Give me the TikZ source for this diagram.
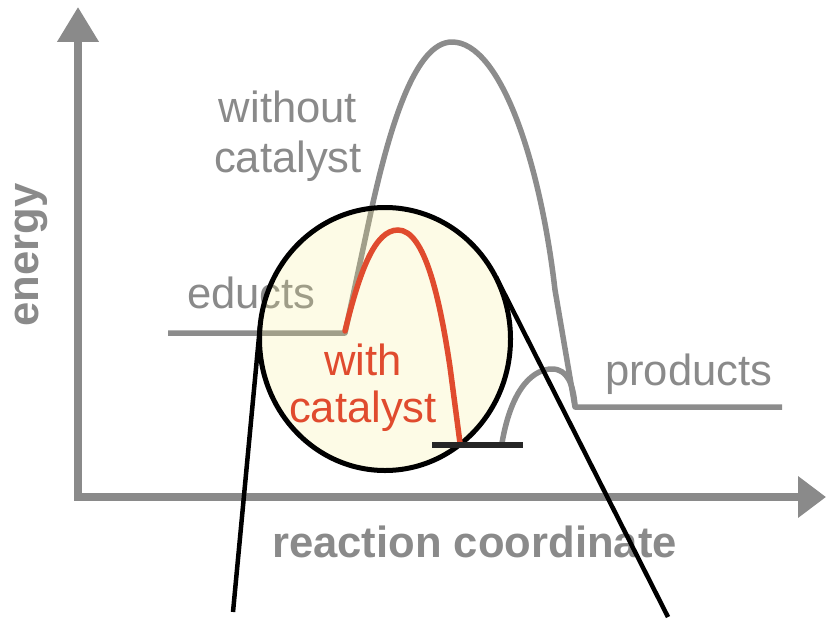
\documentclass[tikz,border=0pt]{standalone}
\usepackage{fontspec}
\setmainfont{Liberation Sans}
\usetikzlibrary{arrows.meta,shapes.geometric}
\definecolor{Axis}{HTML}{8A8A8A}
\definecolor{Curve}{HTML}{8C8C8C}
\definecolor{Label}{HTML}{8A8A8A}
\definecolor{Red}{HTML}{E04B2E}
\definecolor{LensFill}{HTML}{F5EB82}
\tikzset{axis/.style={line width=7.5pt,draw=Axis},curve/.style={line width=5.5pt,draw=Curve,line join=round},cat/.style={line width=5.5pt,draw=Red,line cap=round},lbl/.style={text=Label,inner sep=0pt,font=\fontsize{43.6}{50}\selectfont},axlbl/.style={lbl,font=\fontsize{43.6}{50}\selectfont\bfseries},lens/.style={ellipse,draw=black,line width=5pt,fill=LensFill,fill opacity=.2,minimum width=251pt,minimum height=263pt,inner sep=0pt},zoomline/.style={line width=4.5pt,draw=black}}

\begin{document}
\begin{tikzpicture}[x=1pt,y=-1pt]
      \useasboundingbox (0,0) rectangle (826,618);
      % axes
      \coordinate (origin) at (78,497);\coordinate (ytip) at (78,7);\coordinate (xtip) at (826,497);
      \draw[axis,{Triangle[length=35pt,width=40pt]}-{Triangle[length=28pt,width=40pt]}](ytip)|-(xtip);
      \node[axlbl,rotate=90,anchor=base](energy) at (38,255){energy};
      \node[axlbl,anchor=base west](coord) at (272,557){reaction coordinate};
      % energy profile without catalyst
      \draw[curve](168,333)--(345,333)--(372,207) .. controls (390,127) and (415,42) .. (452,42) .. controls (500,42) and (540,160) .. (555,290)--(575,407)--(782,407);
      \draw[curve](502,443) .. controls (512,385) and (535,369) .. (552,369) .. controls (568,369) and (573,385) .. (575,405);
      \node[lbl,align=center,anchor=base](without) at (288,172){without\\catalyst};
      \node[lbl,anchor=base west](educts) at (187,308){educts};
      \node[lbl,anchor=base west](products) at (605,385){products};
      % magnified part
      \node[lens](lens) at (385,339){};
      \draw[cat](345,331) .. controls (360,270) and (375,230) .. (398,230) .. controls (425,230) and (440,300) .. (450,367)--(460,443);
      \node[lbl,text=Red,align=center,anchor=base,font=\fontsize{43.6}{47}\selectfont](with) at (363,422){with\\catalyst};
      \draw[line width=6pt,draw=black!85](432,445)--(523,445);
      \coordinate (lensL) at (260,326);\coordinate (lensR) at (496,277);
      \coordinate (zoomL) at (233,612);\coordinate (zoomR) at (668,617);
      \draw[zoomline](lensL)--(zoomL);\draw[zoomline](lensR)--(zoomR);
    \end{tikzpicture}
\end{document}
